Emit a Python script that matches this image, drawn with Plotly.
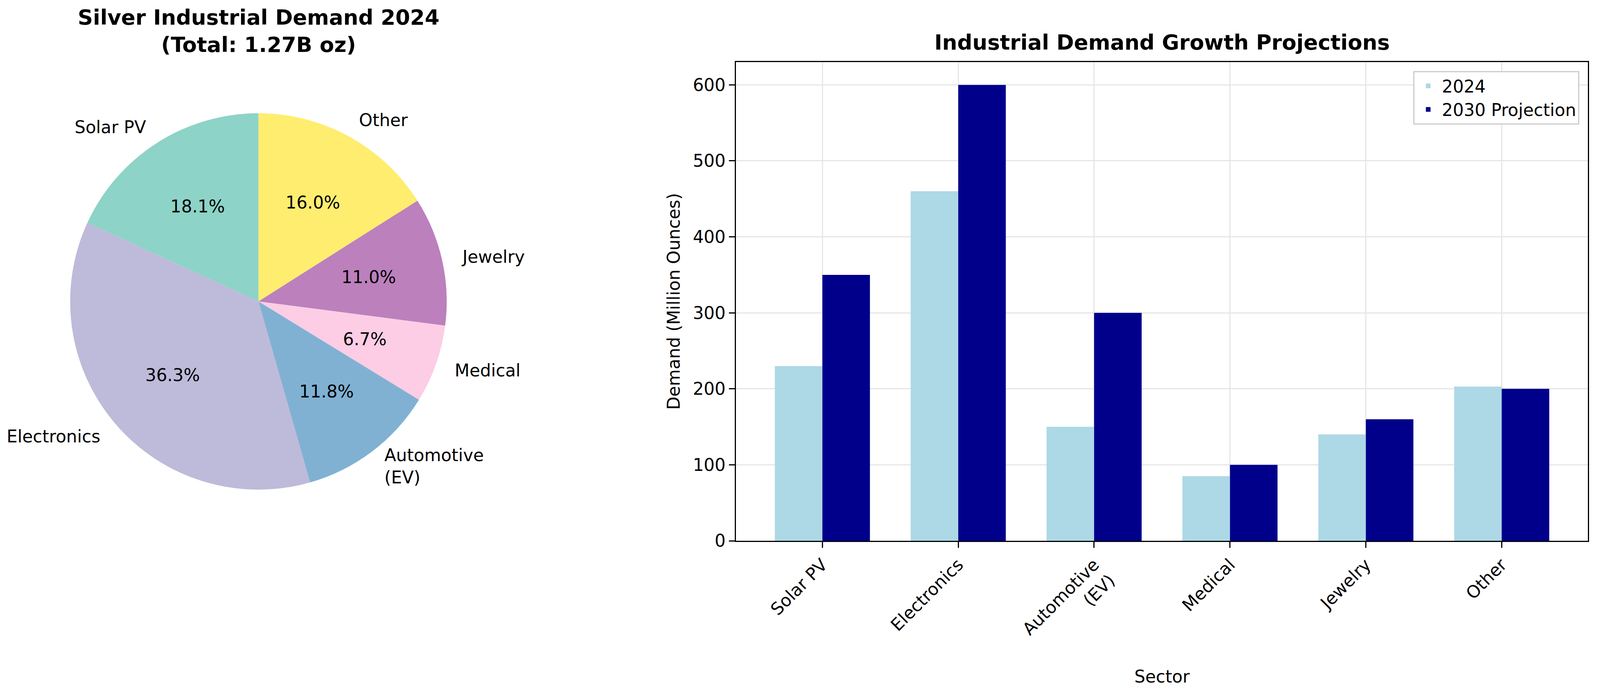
import numpy as np
import plotly.graph_objects as go

# --- data ---
sectors = ["Solar PV", "Electronics", "Automotive\n(EV)", "Medical", "Jewelry", "Other"]
demand_2024 = [230, 460, 150, 85, 140, 203]  # million oz
demand_2030 = [350, 600, 300, 100, 160, 200]  # million oz
pie_colors = ["#8dd3c7", "#bebada", "#80b1d3", "#fccde5", "#bc80bd", "#ffed6f"]
y_ticks = [0, 100, 200, 300, 400, 500, 600]

FONT = "DejaVu Sans"
TXT = 44
labels = [s.replace("\n", "<br>") for s in sectors]

# the captured page is ~4092 px wide and the body margin shifts the plot by 8px,
# so layout positions are taken from the 4280-wide reference and mapped here
REF_W = 4280
PIC_W, PIC_H, OFF = 4092, 1762, 8
W, H = PIC_W - OFF, PIC_H - OFF
SX = PIC_W / REF_W


def px(x):
    return (x * SX - OFF) / W


def py(y):
    return 1 - (y - OFF) / H


# pie placement (reference pixels: centre from top-left, radius)
PIE_CX, PIE_CY, PIE_R = 692, 772, 482
cx = PIE_CX * SX - OFF  # figure pixels
cy = H - (PIE_CY - OFF)

fig = go.Figure()

# plotly's counterclockwise mode ends the first slice at 12 o'clock, so feed
# the slices reversed and go clockwise -> first sector starts at 12 going ccw
fig.add_trace(
    go.Pie(
        labels=labels[::-1],
        values=demand_2024[::-1],
        marker=dict(colors=pie_colors[::-1], line=dict(width=0)),
        sort=False,
        direction="clockwise",
        rotation=0,
        textinfo="none",
        showlegend=False,
        domain=dict(
            x=[(cx - PIE_R) / W, (cx + PIE_R) / W],
            y=[(cy - PIE_R) / H, (cy + PIE_R) / H],
        ),
    )
)

# matplotlib-style pie labels: name at 1.1 r, percentage at 0.6 r
total = sum(demand_2024)
cum = 0
for lab, v in zip(labels, demand_2024):
    mid = np.deg2rad(90 + 360 * (cum + v / 2) / total)
    cum += v
    dx, dy = np.cos(mid), np.sin(mid)
    fig.add_annotation(
        x=(cx + 1.1 * PIE_R * dx) / W,
        y=(cy + 1.1 * PIE_R * dy) / H,
        xref="paper", yref="paper",
        text=lab, showarrow=False,
        xanchor="left" if dx > 0 else "right", yanchor="middle", align="left",
        font=dict(size=TXT, color="black", family=FONT),
    )
    fig.add_annotation(
        x=(cx + 0.6 * PIE_R * dx) / W,
        y=(cy + 0.6 * PIE_R * dy) / H,
        xref="paper", yref="paper",
        text=f"{100 * v / total:.1f}%", showarrow=False,
        xanchor="center", yanchor="middle",
        font=dict(size=TXT, color="black", family=FONT),
    )

fig.add_annotation(
    x=cx / W, y=py(148), xref="paper", yref="paper",
    text="<b>Silver Industrial Demand 2024<br>(Total: 1.27B oz)</b>",
    showarrow=False, xanchor="center", yanchor="bottom", align="center",
    font=dict(size=54, color="black", family=FONT),
)

# --- grouped bars ---
fig.add_trace(
    go.Bar(x=labels, y=demand_2024, name="2024", marker=dict(color="#add8e6", line=dict(width=0)))
)
fig.add_trace(
    go.Bar(x=labels, y=demand_2030, name="2030 Projection", marker=dict(color="#00008b", line=dict(width=0)))
)

ax_left, ax_right, ax_top, ax_bot = 1971, 4252, 159, 1385

fig.add_annotation(
    x=(px(ax_left) + px(ax_right)) / 2, y=py(142), xref="paper", yref="paper",
    text="<b>Industrial Demand Growth Projections</b>",
    showarrow=False, xanchor="center", yanchor="bottom",
    font=dict(size=54, color="black", family=FONT),
)

fig.update_layout(
    width=W,
    height=H,
    margin=dict(l=0, r=0, t=0, b=0, pad=0),
    paper_bgcolor="white",
    plot_bgcolor="white",
    font=dict(family=FONT, size=TXT, color="black"),
    barmode="group",
    bargap=0.3,
    bargroupgap=0,
    legend=dict(
        x=px(4229), y=py(182), xanchor="right", yanchor="top",
        bordercolor="#cccccc", borderwidth=3, bgcolor="white",
        font=dict(size=TXT, family=FONT),
        itemwidth=60,
    ),
    xaxis=dict(
        domain=[px(ax_left), px(ax_right)],
        range=[-0.635, 5.635],
        tickangle=-45,
        ticks="outside", ticklen=15, tickwidth=3, tickcolor="black",
        showline=True, linecolor="black", linewidth=3, mirror=True,
        showgrid=True, gridcolor="#e6e6e6", gridwidth=3,
        title=dict(text="Sector", standoff=42, font=dict(size=TXT)),
        automargin=False,
    ),
    yaxis=dict(
        domain=[py(ax_bot), py(ax_top)],
        range=[0, 630],
        tickvals=y_ticks,
        ticks="outside", ticklen=15, tickwidth=3, tickcolor="black",
        showline=True, linecolor="black", linewidth=3, mirror=True,
        showgrid=True, gridcolor="#e6e6e6", gridwidth=3,
        zeroline=False,
        title=dict(text="Demand (Million Ounces)", standoff=20, font=dict(size=TXT)),
        automargin=False,
    ),
)

fig.write_html("out.html")
